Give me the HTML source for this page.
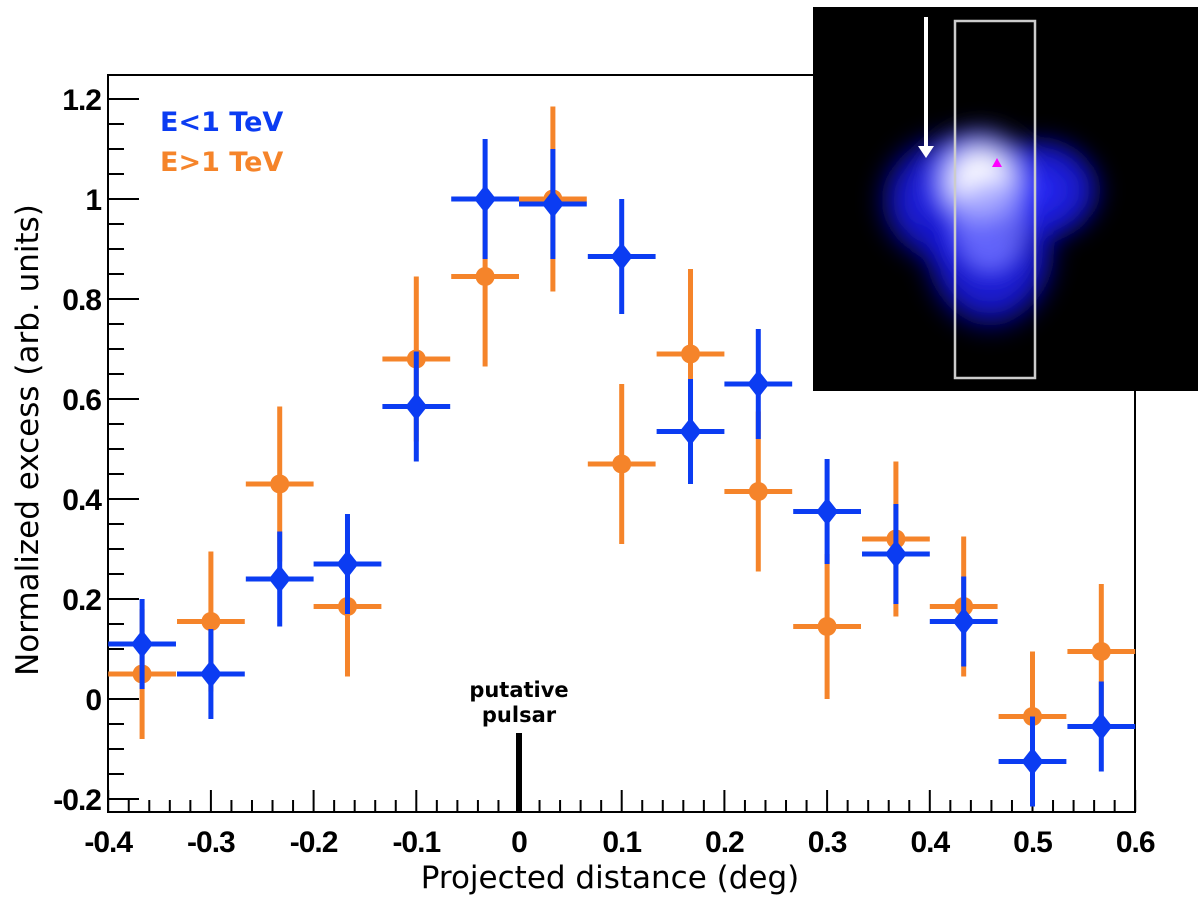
<!DOCTYPE html>
<html><head><meta charset="utf-8"><style>
html,body{margin:0;padding:0;background:#fff;}
svg{display:block;}
</style></head><body>
<svg id="chart" width="1200" height="898" viewBox="0 0 1200 898" xmlns="http://www.w3.org/2000/svg">
<defs>
<radialGradient id="glowW" cx="50%" cy="50%" r="50%">
<stop offset="0%" stop-color="#fff"/><stop offset="35%" stop-color="#f4f4ff"/><stop offset="70%" stop-color="#8a8cff" stop-opacity="0.8"/><stop offset="100%" stop-color="#1010ff" stop-opacity="0"/></radialGradient>
<radialGradient id="glowB" cx="50%" cy="50%" r="50%">
<stop offset="0%" stop-color="#2a2cff"/><stop offset="65%" stop-color="#1a1ae0" stop-opacity="0.85"/><stop offset="100%" stop-color="#0000a0" stop-opacity="0"/></radialGradient>
<filter id="blur"><feGaussianBlur stdDeviation="10"/></filter>
</defs>
<g id="axes"></g>
<g id="marks"></g>
<g>
<rect x="813" y="7" width="385" height="384" fill="#000"/>
<g filter="url(#blur)">
<ellipse cx="950" cy="200" rx="80" ry="75" fill="url(#glowB)"/>
<ellipse cx="990" cy="250" rx="75" ry="90" fill="url(#glowB)"/>
<ellipse cx="1040" cy="190" rx="70" ry="60" fill="url(#glowB)"/>
<ellipse cx="980" cy="180" rx="60" ry="60" fill="url(#glowW)"/>
<ellipse cx="990" cy="225" rx="35" ry="45" fill="#8a8cff" opacity="0.6"/>
</g>
<rect x="955" y="21" width="80" height="357" fill="none" stroke="#ccc" stroke-width="2.5"/>
<line x1="926" y1="17" x2="926" y2="148" stroke="#fff" stroke-width="4"/>
<polygon points="918,146 934,146 926,158" fill="#fff"/>
<polygon points="997,158 1002,167 992,167" fill="#f0f"/>
</g>
</svg>
<script>
const xCenters=[-0.367,-0.3,-0.233,-0.167,-0.1,-0.033,0.033,0.1,0.167,0.233,0.3,0.367,0.433,0.5,0.567];
const binHalfWidth=0.033;
const blueVals=[0.11,0.05,0.24,0.27,0.585,1.0,0.99,0.885,0.535,0.63,0.375,0.29,0.155,-0.125,-0.055];
const blueErrs=[0.09,0.09,0.095,0.1,0.11,0.12,0.11,0.115,0.105,0.11,0.105,0.1,0.09,0.09,0.09];
const orangeVals=[0.05,0.155,0.43,0.185,0.68,0.845,1.0,0.47,0.69,0.415,0.145,0.32,0.185,-0.035,0.095];
const orangeErrs=[0.13,0.14,0.155,0.14,0.165,0.18,0.185,0.16,0.17,0.16,0.145,0.155,0.14,0.13,0.135];
const xTicks=[-0.4,-0.3,-0.2,-0.1,0,0.1,0.2,0.3,0.4,0.5,0.6];
const xTickLabels=["-0.4","-0.3","-0.2","-0.1","0","0.1","0.2","0.3","0.4","0.5","0.6"];
const yTicks=[-0.2,0,0.2,0.4,0.6,0.8,1,1.2];
const yTickLabels=["-0.2","0","0.2","0.4","0.6","0.8","1","1.2"];

const NS="http://www.w3.org/2000/svg";
const L=108,R=1135,T=75,B=812;
const sx=v=>519+v*1027;
const sy=v=>699-v*500;
function mk(tag,attrs,parent){const e=document.createElementNS(NS,tag);for(const k in attrs)e.setAttribute(k,attrs[k]);parent.appendChild(e);return e;}
const ax=document.getElementById('axes');
const frame=mk('rect',{x:L,y:T,width:R-L,height:B-T,fill:'none',stroke:'#000','stroke-width':2},ax);


for(let i=-20;i<=30;i++){const v=i*0.02;const major=(i%5===0);
 const t=mk('line',{x1:sx(v),x2:sx(v),y1:B,y2:B-(major?22:12),stroke:'#000','stroke-width':2},ax);
 
 }
xTicks.forEach((v,i)=>{const t=mk('text',{x:sx(v),y:852,'text-anchor':'middle','font-family':'Liberation Sans, sans-serif','font-weight':'bold','font-size':30,'letter-spacing':-1},ax);t.textContent=xTickLabels[i];
 
 });
for(let i=-11;i<=25;i++){const v=i*0.05;const y=sy(v);if(y>B||y<T)continue;const major=(i%4===0);
 const t=mk('line',{x1:L,x2:L+(major?31:16),y1:y,y2:y,stroke:'#000','stroke-width':2},ax);
 
 }
yTicks.forEach((v,i)=>{const t=mk('text',{x:101,y:sy(v)+11,'text-anchor':'end','font-family':'Liberation Sans, sans-serif','font-weight':'bold','font-size':30,'letter-spacing':-1},ax);t.textContent=yTickLabels[i];
 
 });
const xt=mk('text',{x:610,y:888,'text-anchor':'middle','font-family':'DejaVu Sans, sans-serif','font-size':31},ax);xt.textContent='Projected distance (deg)';


const yt=mk('text',{x:0,y:0,'text-anchor':'middle','font-family':'DejaVu Sans, sans-serif','font-size':31,transform:'translate(38,440) rotate(-90)'},ax);yt.textContent='Normalized excess (arb. units)';


const l1=mk('text',{x:160,y:131,'font-family':'DejaVu Sans, sans-serif','font-weight':'bold','font-size':27,fill:'#0b3cf2'},ax);l1.textContent='E<1 TeV';


const l2=mk('text',{x:160,y:171,'font-family':'DejaVu Sans, sans-serif','font-weight':'bold','font-size':27,fill:'#f5842a'},ax);l2.textContent='E>1 TeV';


const p1=mk('text',{x:519,y:697,'text-anchor':'middle','font-family':'DejaVu Sans, sans-serif','font-weight':'bold','font-size':21},ax);p1.textContent='putative';


const p2=mk('text',{x:519,y:722,'text-anchor':'middle','font-family':'DejaVu Sans, sans-serif','font-weight':'bold','font-size':21},ax);p2.textContent='pulsar';


const pm=mk('rect',{x:sx(0)-3,y:733,width:6,height:B-733,fill:'#000'},ax);



const mg=document.getElementById('marks');
function series(vals,errs,color,shape,name){
 xCenters.forEach((c,i)=>{
  const g=mk('g',{},mg);
  
  
  const x=sx(c),y=sy(vals[i]);
  mk('line',{x1:sx(c-binHalfWidth),x2:sx(c+binHalfWidth),y1:y,y2:y,stroke:color,'stroke-width':5},g);
  mk('line',{x1:x,x2:x,y1:sy(vals[i]+errs[i]),y2:sy(vals[i]-errs[i]),stroke:color,'stroke-width':5},g);
  if(shape==='circle')mk('circle',{cx:x,cy:y,r:9.5,fill:color},g);
  else mk('polygon',{points:`${x},${y-14} ${x+11},${y} ${x},${y+14} ${x-11},${y}`,fill:color},g);
 });
}
series(orangeVals,orangeErrs,'#f5842a','circle','high-energy');
series(blueVals,blueErrs,'#0b3cf2','diamond','low-energy');
</script>
</body></html>
